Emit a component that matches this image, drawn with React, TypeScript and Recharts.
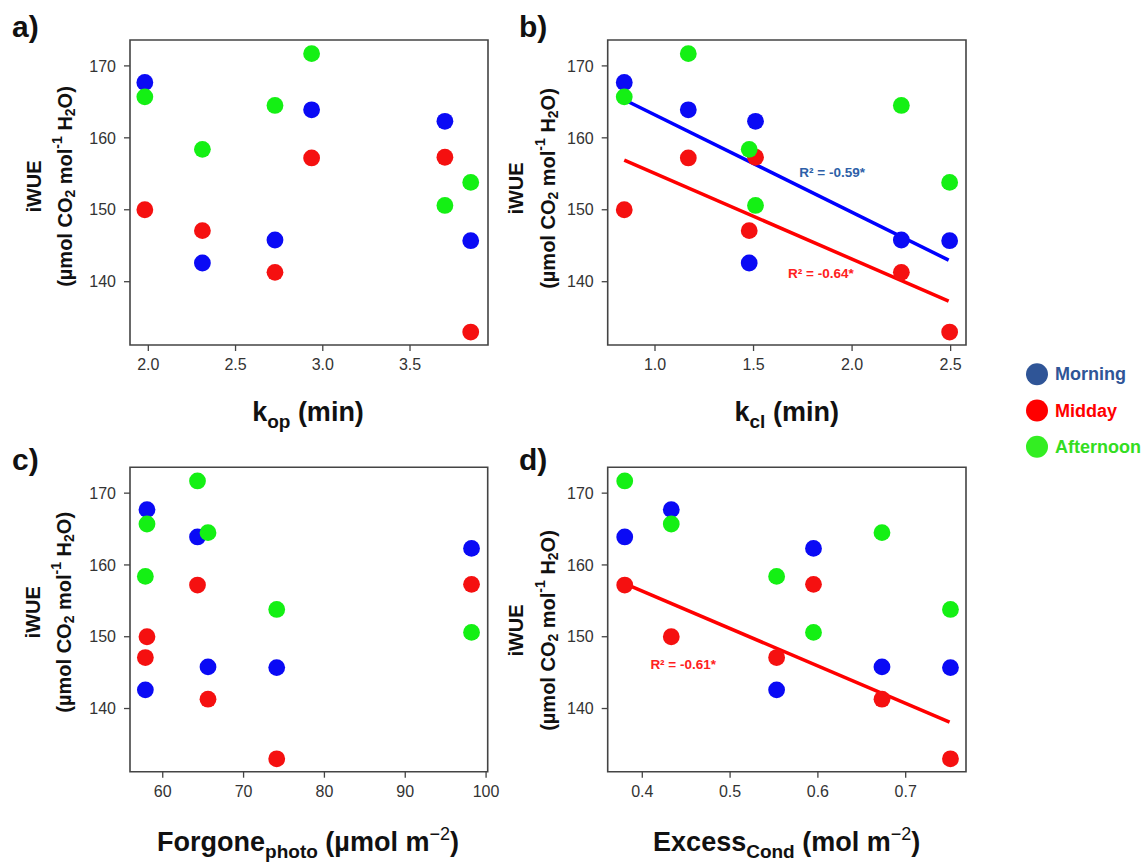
import React from 'react';
import { ScatterChart, Scatter, XAxis, YAxis, ReferenceArea, ReferenceLine, ReferenceDot } from 'recharts';

const FONT = '"Liberation Sans", Arial, sans-serif';

// x values of the six groups in each panel
const kop = [1.98, 2.31, 2.726, 2.936, 3.70, 3.848];
const kcl = [0.844, 1.478, 2.25, 1.169, 1.51, 2.495];
const forgone = [58.05, 57.85, 65.6, 64.3, 98.2, 74.1];
const excess = [0.433, 0.553, 0.673, 0.38, 0.595, 0.751];

// iWUE per time of day (same six groups)
const morning = [167.7, 142.6, 145.8, 163.9, 162.3, 145.7];
const midday = [150.0, 147.1, 141.3, 157.2, 157.3, 133.0];
const afternoon = [165.7, 158.4, 164.5, 171.7, 150.6, 153.8];

const seriesNames = ['Morning', 'Midday', 'Afternoon'];
const dotColors = ['#0a0af5', '#f51010', '#14f014'];
const legendDotColors = ['#2f5597', '#ff0000', '#33ee22'];
const legendTextColors = ['#2f5597', '#ff0000', '#33dd22'];

const yTicks = [140, 150, 160, 170];
const yDomain = [131.2, 173.6];

const xTicksA = [2.0, 2.5, 3.0, 3.5];
const xTicksB = [1.0, 1.5, 2.0, 2.5];
const xTicksC = [60, 70, 80, 90, 100];
const xTicksD = [0.4, 0.5, 0.6, 0.7];

// regression lines (end points)
const fitBMorning = [{ x: 0.844, y: 165.3 }, { x: 2.49, y: 143.0 }];
const fitBMidday = [{ x: 0.844, y: 156.9 }, { x: 2.49, y: 137.3 }];
const fitDMidday = [{ x: 0.38, y: 157.4 }, { x: 0.75, y: 138.1 }];

const r2Labels = {
  bMorning: { x: 1.899, y: 155.2, text: 'R² = -0.59*' },
  bMidday: { x: 1.842, y: 141.2, text: 'R² = -0.64*' },
  dMidday: { x: 0.4466, y: 146.2, text: 'R² = -0.61*' },
};

const mk = (xs: number[], ys: number[]) => xs.map((x, i) => ({ x, y: ys[i] }));

const tickStyle = { fontSize: 16, fill: '#333', fontFamily: FONT };

function YTitle({ x1, x2, cy }: { x1: number; x2: number; cy: number }) {
  return (
    <g fontFamily={FONT} fontWeight="bold" fill="#111">
      <text x={x1} y={cy} transform={`rotate(-90 ${x1} ${cy})`} textAnchor="middle" dominantBaseline="central" fontSize={20}>
        iWUE
      </text>
      <text x={x2} y={cy} transform={`rotate(-90 ${x2} ${cy})`} textAnchor="middle" dominantBaseline="central" fontSize={20}>
        (µmol CO<tspan fontSize={14} dy={5}>2</tspan>
        <tspan dy={-5}> mol</tspan>
        <tspan fontSize={14} dy={-8}>-1</tspan>
        <tspan dy={8}> H</tspan>
        <tspan fontSize={14} dy={5}>2</tspan>
        <tspan dy={-5}>O)</tspan>
      </text>
    </g>
  );
}

function XTitle({ cx, y, main, sub, rest, sup, tail }: { cx: number; y: number; main: string; sub: string; rest: string; sup?: string; tail?: string }) {
  return (
    <text x={cx} y={y} textAnchor="middle" fontFamily={FONT} fontWeight="bold" fontSize={27} fill="#111">
      {main}
      <tspan fontSize={19} dy={7}>{sub}</tspan>
      <tspan dy={-7}>{rest}</tspan>
      {sup ? <tspan fontSize={18} fontWeight="normal" dy={-11}>{sup}</tspan> : null}
      {tail ? <tspan dy={11}>{tail}</tspan> : null}
    </text>
  );
}

type PanelProps = {
  left: number;
  top: number;
  width: number;
  height: number;
  margin: { top: number; right: number; bottom: number; left: number };
  xs: number[];
  xDomain: [number, number];
  xTicks: number[];
  fmt: (v: number) => string;
  yT: { x1: number; x2: number; cy: number };
  xT: { cx: number; main: string; sub: string; rest: string; sup?: string; tail?: string };
  fits?: { data: { x: number; y: number }[]; color: string }[];
  labels?: { x: number; y: number; text: string; color: string }[];
};

function Panel(p: PanelProps) {
  const seriesData = [mk(p.xs, morning), mk(p.xs, midday), mk(p.xs, afternoon)];
  return (
    <div style={{ position: 'absolute', left: p.left, top: p.top }}>
      <ScatterChart width={p.width} height={p.height} margin={p.margin}>
        <XAxis
          type="number"
          dataKey="x"
          domain={p.xDomain}
          ticks={p.xTicks}
          tickFormatter={p.fmt}
          axisLine={false}
          tickLine={{ stroke: '#444', strokeWidth: 1.3 }}
          tickSize={6}
          tickMargin={8}
          tick={tickStyle}
          height={30}
          interval={0}
          label={{ content: () => <XTitle cx={p.xT.cx} y={421} main={p.xT.main} sub={p.xT.sub} rest={p.xT.rest} sup={p.xT.sup} tail={p.xT.tail} /> }}
        />
        <YAxis
          type="number"
          dataKey="y"
          domain={yDomain}
          ticks={yTicks}
          axisLine={false}
          tickLine={{ stroke: '#444', strokeWidth: 1.3 }}
          tickSize={6}
          tickMargin={8}
          tick={tickStyle}
          width={60}
          interval={0}
          label={{ content: () => <YTitle x1={p.yT.x1} x2={p.yT.x2} cy={p.yT.cy} /> }}
        />
        <ReferenceArea
          x1={p.xDomain[0]}
          x2={p.xDomain[1]}
          y1={yDomain[0]}
          y2={yDomain[1]}
          fill="none"
          fillOpacity={0}
          stroke="#444"
          strokeWidth={1.6}
        />
        {seriesData.map((d, i) => (
          <Scatter
            key={seriesNames[i]}
            name={seriesNames[i]}
            data={d}
            isAnimationActive={false}
            shape={(s: any) => <circle cx={s.cx} cy={s.cy} r={8.4} fill={dotColors[i]} />}
          />
        ))}
        {(p.fits || []).map((f, i) => (
          <ReferenceLine key={'f' + i} segment={f.data} stroke={f.color} strokeWidth={3.5} />
        ))}
        {(p.labels || []).map((l, i) => (
          <ReferenceDot
            key={'l' + i}
            x={l.x}
            y={l.y}
            r={0}
            fill="none"
            stroke="none"
            label={{ value: l.text, position: 'center', fill: l.color, fontSize: 13.5, fontWeight: 'bold', fontFamily: FONT }}
          />
        ))}
      </ScatterChart>
    </div>
  );
}

const f1 = (v: number) => v.toFixed(1);
const f0 = (v: number) => String(v);

export default function App() {
  return (
    <div style={{ position: 'absolute', left: 0, top: 0, width: 1146, height: 863, background: '#fff', fontFamily: FONT }}>
      <Panel
        left={0}
        top={0}
        width={500}
        height={436}
        margin={{ top: 40, right: 12, bottom: 61, left: 70 }}
        xs={kop}
        xDomain={[1.895, 3.947]}
        xTicks={xTicksA}
        fmt={f1}
        yT={{ x1: 33.7, x2: 65.3, cy: 186.5 }}
        xT={{ cx: 308, main: 'k', sub: 'op', rest: ' (min)' }}
      />
      <Panel
        left={500}
        top={0}
        width={480}
        height={436}
        margin={{ top: 40, right: 14, bottom: 61, left: 47.7 }}
        xs={kcl}
        xDomain={[0.76, 2.578]}
        xTicks={xTicksB}
        fmt={f1}
        yT={{ x1: 15.7, x2: 48.3, cy: 188.5 }}
        xT={{ cx: 286.7, main: 'k', sub: 'cl', rest: ' (min)' }}
        fits={[
          { data: fitBMorning, color: '#0000ff' },
          { data: fitBMidday, color: '#ff0000' },
        ]}
        labels={[
          { ...r2Labels.bMorning, color: '#2e5fa8' },
          { ...r2Labels.bMidday, color: '#ff2020' },
        ]}
      />
      <Panel
        left={0}
        top={430}
        width={500}
        height={433}
        margin={{ top: 37.3, right: 12.3, bottom: 61.3, left: 70 }}
        xs={forgone}
        xDomain={[55.95, 100.2]}
        xTicks={xTicksC}
        fmt={f0}
        yT={{ x1: 32.8, x2: 64.5, cy: 182.3 }}
        xT={{ cx: 308, main: 'Forgone', sub: 'photo', rest: ' (µmol m', sup: '−2', tail: ')' }}
      />
      <Panel
        left={500}
        top={430}
        width={480}
        height={433}
        margin={{ top: 37.3, right: 14, bottom: 61.3, left: 47.7 }}
        xs={excess}
        xDomain={[0.3606, 0.7687]}
        xTicks={xTicksD}
        fmt={f1}
        yT={{ x1: 15.7, x2: 48.3, cy: 200.5 }}
        xT={{ cx: 286.7, main: 'Excess', sub: 'Cond', rest: ' (mol m', sup: '−2', tail: ')' }}
        fits={[{ data: fitDMidday, color: '#ff0000' }]}
        labels={[{ ...r2Labels.dMidday, color: '#ff2020' }]}
      />
      <svg width={1146} height={863} style={{ position: 'absolute', left: 0, top: 0, pointerEvents: 'none' }}>
        <g fontFamily={FONT} fontWeight="bold" fontSize={30} fill="#111">
          <text x={12} y={37}>a)</text>
          <text x={519} y={37}>b)</text>
          <text x={12} y={470}>c)</text>
          <text x={519} y={470}>d)</text>
        </g>
        {seriesNames.map((n, i) => (
          <g key={n}>
            <circle cx={1037} cy={374.3 + i * 36.2} r={11} fill={legendDotColors[i]} />
            <text x={1055} y={374.3 + i * 36.2} dominantBaseline="central" fontFamily={FONT} fontWeight="bold" fontSize={18} fill={legendTextColors[i]}>
              {n}
            </text>
          </g>
        ))}
      </svg>
    </div>
  );
}
